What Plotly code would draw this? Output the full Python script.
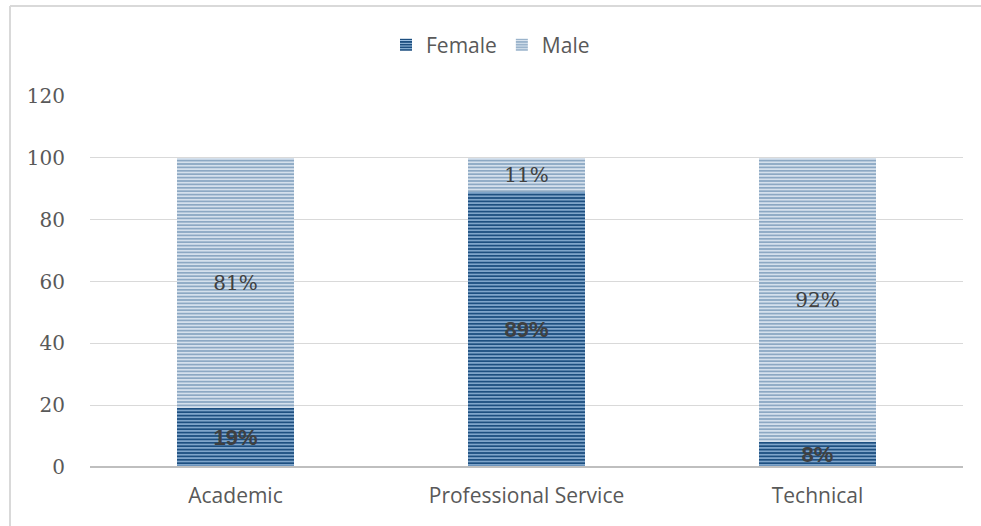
import plotly.graph_objects as go

categories = ["Academic", "Professional Service", "Technical"]
female = [19, 89, 8]
male = [81, 11, 92]
female_labels = ["19%", "89%", "8%"]
male_labels = ["81%", "11%", "92%"]

W, H = 981, 526
L, R, T, B = 90, 18, 96, 59
pw, ph = W - L - R, H - T - B

fig = go.Figure()
fig.add_trace(go.Bar(
    name="Female", x=categories, y=female, text=female_labels,
    textposition="inside", insidetextanchor="middle", textangle=0, constraintext="none",
    textfont=dict(family="Liberation Sans, Arial", size=22, color="#404040", weight="bold"),
    marker=dict(color="#1F4E79", line=dict(width=0),
                pattern=dict(shape="-", fgcolor="#A9CBEA", bgcolor="#1D4F80",
                             size=3.4, solidity=0.35, fillmode="replace")),
    width=0.4,
))
fig.add_trace(go.Bar(
    name="Male", x=categories, y=male, text=male_labels,
    textposition="inside", insidetextanchor="middle", textangle=0, constraintext="none",
    textfont=dict(family="DejaVu Serif, Liberation Serif", size=20, color="#404040"),
    marker=dict(color="#8FAAC4", line=dict(width=0),
                pattern=dict(shape="-", fgcolor="#DDE7F1", bgcolor="#8CA8C3",
                             size=3.4, solidity=0.45, fillmode="replace")),
    width=0.4,
))

fig.update_layout(
    barmode="stack",
    width=W, height=H,
    margin=dict(l=L, r=R, t=T, b=B, pad=0, autoexpand=False),
    paper_bgcolor="white", plot_bgcolor="white",
    uniformtext=dict(mode=False),
    legend=dict(orientation="h", x=0.5, xanchor="center", xref="container",
                y=1 - 45 / H, yanchor="middle", yref="container",
                font=dict(family="Open Sans, Liberation Sans", size=21, color="#595959"),
                traceorder="normal", bgcolor="rgba(0,0,0,0)"),
    xaxis=dict(showgrid=False, showline=False, ticks="", ticklabelstandoff=14,
               tickfont=dict(family="Open Sans, Liberation Sans", size=21, color="#595959")),
    yaxis=dict(range=[0, 120], dtick=20, showgrid=True, gridcolor="#D9D9D9", gridwidth=1,
               zeroline=True, zerolinecolor="#BFBFBF", zerolinewidth=2,
               showline=False, ticks="", ticklabelstandoff=24,
               tickfont=dict(family="DejaVu Serif, Liberation Serif", size=20, color="#595959")),
    shapes=[
        dict(type="line", xref="paper", yref="paper",
             x0=(10 - L) / pw, x1=(10 - L) / pw, y0=(H - B - 6) / ph, y1=(H - B - 530) / ph,
             line=dict(color="#D9D9D9", width=2)),
        dict(type="line", xref="paper", yref="paper",
             x0=(10 - L) / pw, x1=(990 - L) / pw, y0=(H - B - 6) / ph, y1=(H - B - 6) / ph,
             line=dict(color="#D9D9D9", width=2)),
        dict(type="line", xref="paper", yref="paper",
             x0=0, x1=1, y0=0, y1=0,
             line=dict(color="#BFBFBF", width=2)),
    ],
)

fig.write_html("out.html")
